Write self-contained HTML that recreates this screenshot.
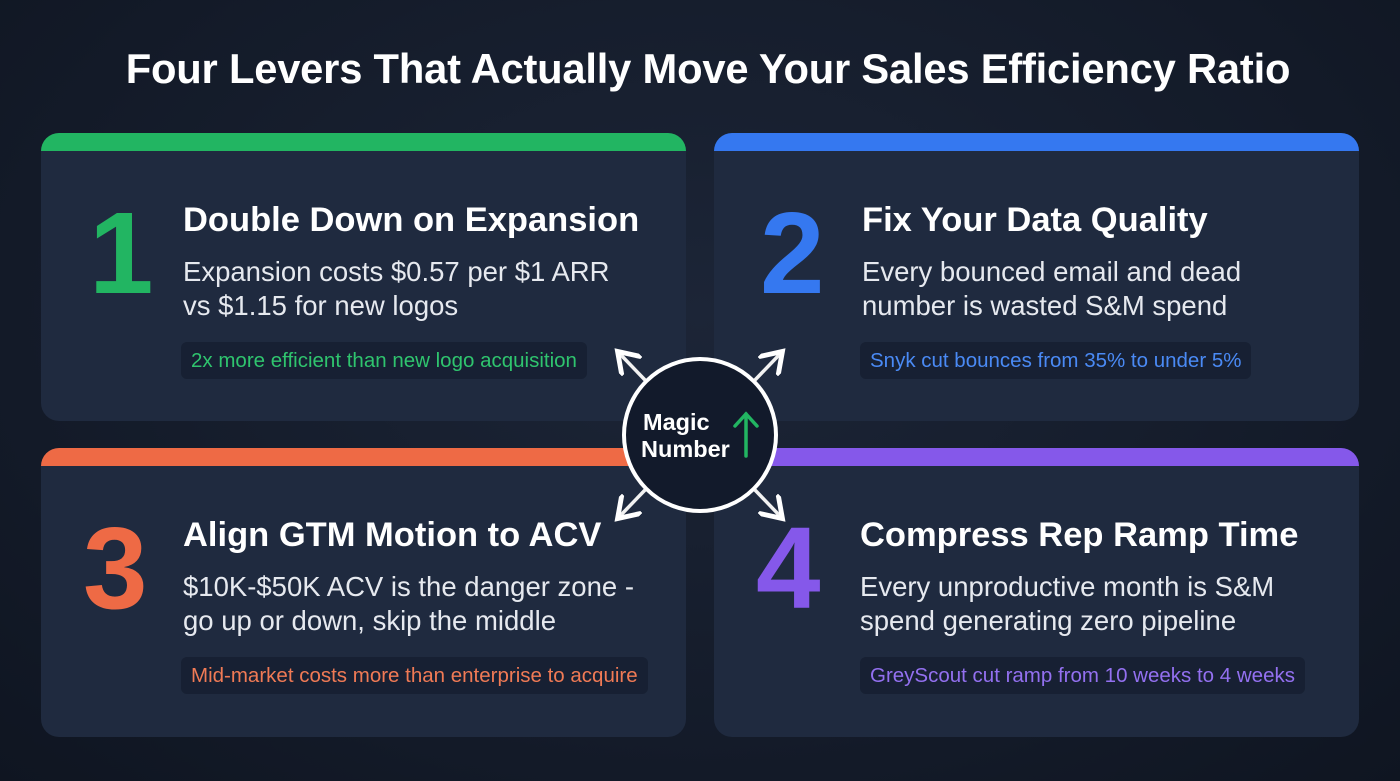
<!DOCTYPE html>
<html><head><meta charset="utf-8"><style>
*{margin:0;padding:0;box-sizing:border-box}
body{width:1400px;height:781px;background:radial-gradient(ellipse at 50% 40%,#1c2537 0%,#131a28 70%,#0f1521 100%);font-family:"Liberation Sans",sans-serif;position:relative;overflow:hidden;color:#fff}
h1{position:absolute;top:45px;left:8px;width:1400px;text-align:center;font-size:41.7px;font-weight:bold;letter-spacing:-0.2px}
.card{position:absolute;width:645px;height:288px;background:#1f2a3f;border-radius:18px;overflow:hidden}
.bar{position:absolute;left:0;top:0;width:100%;height:18px}
.num{position:absolute;font-size:116px;font-weight:bold;line-height:1}
.title{position:absolute;left:142px;top:68px;font-size:34.5px;font-weight:bold;white-space:nowrap}
.body{position:absolute;left:142px;top:122px;font-size:27.5px;line-height:34px;color:#e6e9ef;white-space:nowrap}
.tag{position:absolute;left:140px;top:209px;height:37px;padding:0 10px;line-height:37px;font-size:20.5px;background:#172033;border-radius:6px;white-space:nowrap}
</style></head><body>
<h1>Four Levers That Actually Move Your Sales Efficiency Ratio</h1>

<div class="card" style="left:41px;top:133px">
<div class="bar" style="background:#22b562"></div>
<div class="num" style="left:48px;top:62px;color:#22b562">1</div>
<div class="title">Double Down on Expansion</div>
<div class="body">Expansion costs $0.57 per $1 ARR<br>vs $1.15 for new logos</div>
<div class="tag" style="color:#2fc46e">2x more efficient than new logo acquisition</div>
</div>

<div class="card" style="left:714px;top:133px">
<div class="bar" style="background:#3578f0"></div>
<div class="num" style="left:46px;top:62px;color:#3578f0">2</div>
<div class="title" style="left:148px">Fix Your Data Quality</div>
<div class="body" style="left:148px">Every bounced email and dead<br>number is wasted S&amp;M spend</div>
<div class="tag" style="left:146px;color:#4a8af5">Snyk cut bounces from 35% to under 5%</div>
</div>

<div class="card" style="left:41px;top:448px;height:289px">
<div class="bar" style="background:#ee6a45"></div>
<div class="num" style="left:42px;top:62px;color:#ee6a45">3</div>
<div class="title">Align GTM Motion to ACV</div>
<div class="body">$10K-$50K ACV is the danger zone -<br>go up or down, skip the middle</div>
<div class="tag" style="color:#f07a55">Mid-market costs more than enterprise to acquire</div>
</div>

<div class="card" style="left:714px;top:448px;height:289px">
<div class="bar" style="background:#8558ea"></div>
<div class="num" style="left:42px;top:62px;color:#8558ea">4</div>
<div class="title" style="left:146px">Compress Rep Ramp Time</div>
<div class="body" style="left:146px">Every unproductive month is S&amp;M<br>spend generating zero pipeline</div>
<div class="tag" style="left:146px;color:#9370f0">GreyScout cut ramp from 10 weeks to 4 weeks</div>
</div>

<svg style="position:absolute;left:0;top:0" width="1400" height="781">
<defs><marker id="ah" markerWidth="8" markerHeight="8" refX="5" refY="4" orient="auto" markerUnits="strokeWidth"><path d="M0,0 L6,4 L0,8" fill="none" stroke="#fff" stroke-width="1.4"/></marker></defs>
<g stroke="#f2f2f2" stroke-width="3.5" fill="none">
<line x1="645" y1="380" x2="620" y2="354" marker-end="url(#ah)"/>
<line x1="755" y1="380" x2="780" y2="354" marker-end="url(#ah)"/>
<line x1="645" y1="490" x2="620" y2="516" marker-end="url(#ah)"/>
<line x1="755" y1="490" x2="780" y2="516" marker-end="url(#ah)"/>
</g>
<circle cx="700" cy="435" r="76" fill="#121a2b" stroke="#fff" stroke-width="4"/>
<text x="643" y="430" font-family="Liberation Sans" font-weight="bold" font-size="23.5" fill="#fff">Magic</text>
<text x="641" y="457" font-family="Liberation Sans" font-weight="bold" font-size="23.5" fill="#fff">Number</text>
<g stroke="#22b562" stroke-width="3.5" fill="none" stroke-linecap="round"><line x1="746" y1="456" x2="746" y2="414"/><path d="M735,426 L746,414 L757,426"/></g>
</svg>
</body></html>
